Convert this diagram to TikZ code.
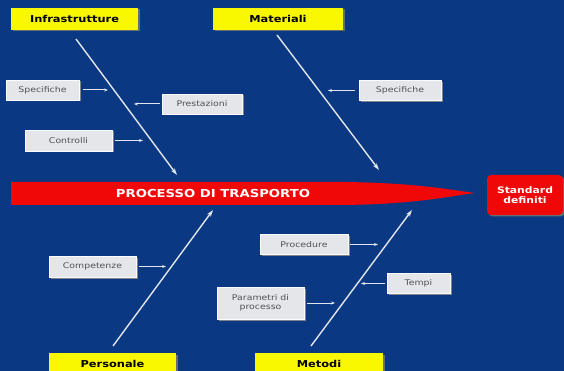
\documentclass[tikz,border=0pt]{standalone}
\usepackage{fontspec}
\setmainfont{DejaVu Sans}[FakeStretch=1.2]
\usetikzlibrary{arrows.meta,shadows}
\definecolor{NavyBg}{RGB}{10,56,130}
\definecolor{HeadYellow}{RGB}{250,248,0}
\definecolor{FishRed}{RGB}{240,8,8}
\definecolor{CauseGrey}{RGB}{228,230,233}
\definecolor{CauseText}{RGB}{80,80,84}
\definecolor{SpineWhite}{RGB}{226,230,238}
\tikzset{
  spine/.style={-{Stealth[length=7pt,width=4.5pt]},line width=1.4pt,draw=SpineWhite},
  twig/.style={-{Stealth[length=4pt,width=3pt]},line width=1pt,draw=SpineWhite},
  headbox/.style={fill=HeadYellow,minimum height=22pt,inner sep=0pt,
    font=\fontsize{9.5}{11}\selectfont\bfseries,text=black,
    drop shadow={shadow xshift=1.5pt,shadow yshift=-1.5pt,fill=black!55,opacity=.9}},
  causebox/.style={fill=CauseGrey,draw=white!85!CauseGrey,minimum height=20pt,inner sep=0pt,
    align=center,font=\fontsize{7.8}{9.5}\selectfont,text=CauseText,
    drop shadow={shadow xshift=1.5pt,shadow yshift=-1.5pt,fill=black!45,opacity=.9}},
  goalbox/.style={fill=FishRed,rounded corners=4pt,inner sep=0pt,align=center,
    font=\fontsize{9}{10.5}\selectfont\bfseries,text=white,
    drop shadow={shadow xshift=1.5pt,shadow yshift=-1.5pt,fill=black!55,opacity=.9}}
}
\begin{document}
\begin{tikzpicture}[x=1pt,y=-1pt]
  \fill[NavyBg] (0,0) rectangle (564,371);
  \useasboundingbox (0,0) rectangle (564,371);
  % fish body
  \fill[FishRed] (11,182) -- (345,182) .. controls (415,183) and (445,189) .. (475,193)
    .. controls (445,197) and (415,204) .. (345,205) -- (11,205) -- cycle;
  \node[font=\fontsize{11}{13}\selectfont\bfseries,text=white] (processo) at (213,193.5) {PROCESSO DI TRASPORTO};
  \node[goalbox,minimum width=76pt,minimum height=40pt] (standard) at (525,195) {Standard\\definiti};
  % categories
  \node[headbox,minimum width=127pt] (infra) at (74.5,19) {Infrastrutture};
  \node[headbox,minimum width=130pt] (materiali) at (278,19) {Materiali};
  \node[headbox,minimum width=127pt] (personale) at (112.5,364) {Personale};
  \node[headbox,minimum width=128pt] (metodi) at (319,364) {Metodi};
  % spines
  \coordinate (infraTop) at (76,39);
  \coordinate (infraTip) at (177,175);
  \coordinate (matTop) at (277,35);
  \coordinate (matTip) at (379,170);
  \coordinate (persBot) at (113,346);
  \coordinate (persTip) at (213,210);
  \coordinate (metBot) at (311,346);
  \coordinate (metTip) at (412,210);
  \draw[spine] (infraTop) -- (infraTip);
  \draw[spine] (matTop) -- (matTip);
  \draw[spine] (persBot) -- (persTip);
  \draw[spine] (metBot) -- (metTip);
  % causes
  \node[causebox,minimum width=73pt] (specA) at (42.5,90) {Specifiche};
  \node[causebox,minimum width=80pt] (prestazioni) at (202,104) {Prestazioni};
  \node[causebox,minimum width=87pt,minimum height=21pt] (controlli) at (68.5,140.5) {Controlli};
  \node[causebox,minimum width=82pt] (specB) at (400,90.5) {Specifiche};
  \node[causebox,minimum width=87pt,minimum height=21pt] (competenze) at (92.5,266.5) {Competenze};
  \node[causebox,minimum width=88pt] (procedure) at (304,244.5) {Procedure};
  \node[causebox,minimum width=63pt] (tempi) at (418.5,283.5) {Tempi};
  \node[causebox,minimum width=87pt,minimum height=32pt] (parametri) at (260.5,303) {Parametri di\\processo};
  \coordinate (specAtip) at (108,90);
  \coordinate (prestTip) at (134,104);
  \coordinate (contrTip) at (143,140.5);
  \coordinate (specBtip) at (328,90.5);
  \coordinate (compTip) at (166,266.5);
  \coordinate (procTip) at (378,244.5);
  \coordinate (tempiTip) at (361,283.5);
  \coordinate (paramTip) at (335,303);
  \draw[twig,shorten <=4pt] (specA.east) -- (specAtip);
  \draw[twig,shorten <=2pt] (prestazioni.west) -- (prestTip);
  \draw[twig,shorten <=3pt] (controlli.east) -- (contrTip);
  \draw[twig,shorten <=4pt] (specB.west) -- (specBtip);
  \draw[twig,shorten <=3pt] (competenze.east) -- (compTip);
  \draw[twig,shorten <=2pt] (procedure.east) -- (procTip);
  \draw[twig,shorten <=2pt] (tempi.west) -- (tempiTip);
  \draw[twig,shorten <=3pt] (parametri.east) -- (paramTip);
\end{tikzpicture}
\end{document}
